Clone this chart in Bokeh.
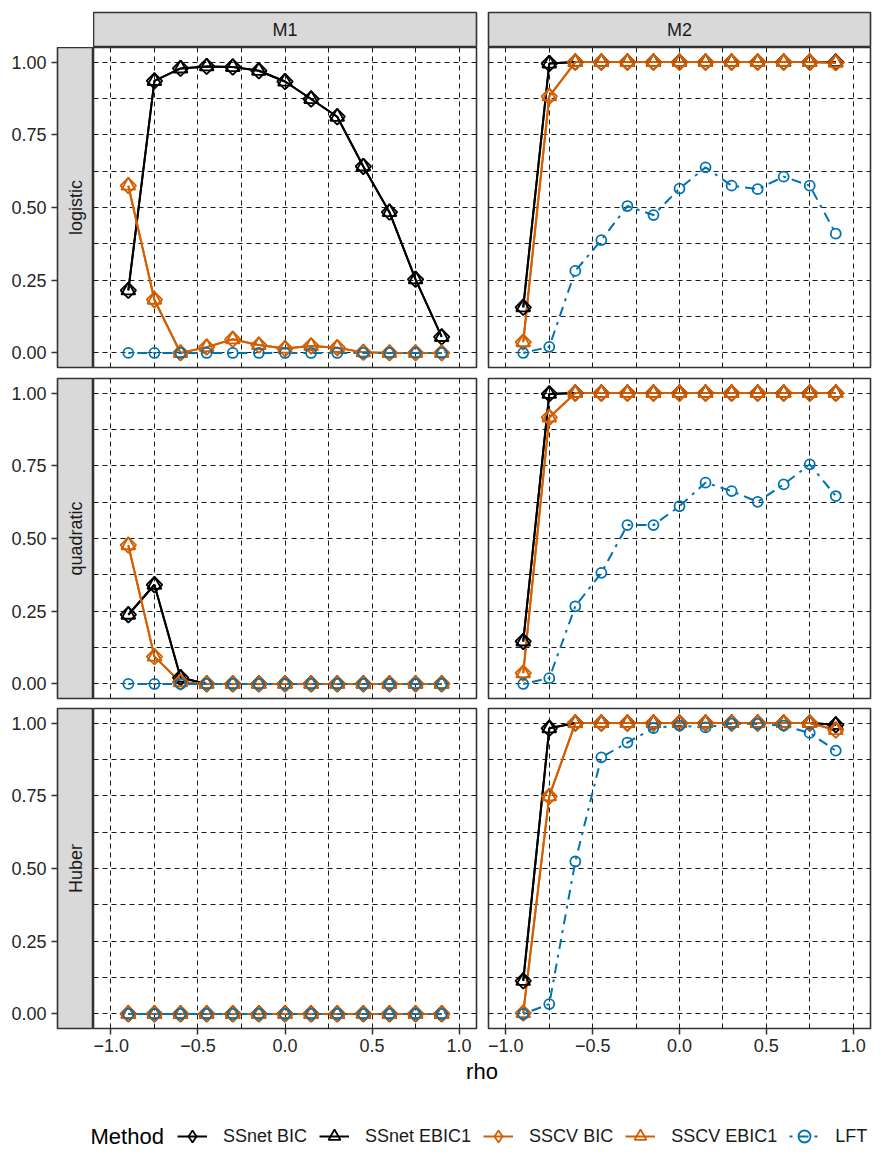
import numpy as np
from bokeh.plotting import figure
from bokeh.models import (Range1d, LinearAxis, FixedTicker, Grid, Label, Legend,
                          LegendItem, Spacer, CustomJSTickFormatter)
from bokeh.layouts import row, column
from bokeh.embed import file_html
from bokeh.resources import INLINE
from bokeh.core.properties import value

# ---------------- data ----------------
rho = [-0.9, -0.75, -0.6, -0.45, -0.3, -0.15, 0.0, 0.15, 0.3, 0.45, 0.6, 0.75, 0.9]
models = ["M1", "M2"]
losses = ["logistic", "quadratic", "Huber"]
methods = ["SSnet BIC", "SSnet EBIC1", "SSCV BIC", "SSCV EBIC1", "LFT"]
x_ticks = [-1.0, -0.5, 0.0, 0.5, 1.0]
x_minor = [-0.75, -0.25, 0.25, 0.75]
y_ticks = [0.0, 0.25, 0.5, 0.75, 1.0]
y_minor = [0.125, 0.375, 0.625, 0.875]

# logistic, M1
ssnet_bic_logistic_m1 = [0.215, 0.935, 0.978, 0.985, 0.983, 0.970, 0.933, 0.873, 0.812, 0.641, 0.484, 0.253, 0.055]
ssnet_ebic1_logistic_m1 = [0.215, 0.935, 0.978, 0.985, 0.983, 0.970, 0.933, 0.873, 0.812, 0.641, 0.484, 0.253, 0.055]
sscv_bic_logistic_m1 = [0.575, 0.183, 0.0, 0.020, 0.047, 0.027, 0.015, 0.024, 0.018, 0.002, 0.0, 0.0, 0.0]
sscv_ebic1_logistic_m1 = [0.575, 0.183, 0.0, 0.020, 0.047, 0.027, 0.015, 0.024, 0.018, 0.002, 0.0, 0.0, 0.0]
lft_logistic_m1 = [0.0, 0.0, 0.0, 0.0, 0.0, 0.0, 0.0, 0.0, 0.0, 0.0, 0.0, 0.0, 0.0]
# logistic, M2
ssnet_bic_logistic_m2 = [0.157, 0.995, 1.0, 1.0, 1.0, 1.0, 1.0, 1.0, 1.0, 1.0, 1.0, 1.0, 1.0]
ssnet_ebic1_logistic_m2 = [0.157, 0.995, 1.0, 1.0, 1.0, 1.0, 1.0, 1.0, 1.0, 1.0, 1.0, 1.0, 1.0]
sscv_bic_logistic_m2 = [0.037, 0.882, 1.0, 1.0, 1.0, 1.0, 1.0, 1.0, 1.0, 1.0, 1.0, 1.0, 0.997]
sscv_ebic1_logistic_m2 = [0.037, 0.882, 1.0, 1.0, 1.0, 1.0, 1.0, 1.0, 1.0, 1.0, 1.0, 1.0, 0.997]
lft_logistic_m2 = [0.0, 0.021, 0.282, 0.388, 0.505, 0.474, 0.565, 0.638, 0.575, 0.563, 0.606, 0.575, 0.410]
# quadratic, M1
ssnet_bic_quadratic_m1 = [0.238, 0.341, 0.022, 0.0, 0.0, 0.0, 0.0, 0.0, 0.0, 0.0, 0.0, 0.0, 0.0]
ssnet_ebic1_quadratic_m1 = [0.238, 0.341, 0.022, 0.0, 0.0, 0.0, 0.0, 0.0, 0.0, 0.0, 0.0, 0.0, 0.0]
sscv_bic_quadratic_m1 = [0.477, 0.094, 0.006, 0.0, 0.0, 0.0, 0.0, 0.0, 0.0, 0.0, 0.0, 0.0, 0.0]
sscv_ebic1_quadratic_m1 = [0.477, 0.094, 0.006, 0.0, 0.0, 0.0, 0.0, 0.0, 0.0, 0.0, 0.0, 0.0, 0.0]
lft_quadratic_m1 = [0.0, 0.0, 0.0, 0.0, 0.0, 0.0, 0.0, 0.0, 0.0, 0.0, 0.0, 0.0, 0.0]
# quadratic, M2
ssnet_bic_quadratic_m2 = [0.146, 0.997, 1.0, 1.0, 1.0, 1.0, 1.0, 1.0, 1.0, 1.0, 1.0, 1.0, 1.0]
ssnet_ebic1_quadratic_m2 = [0.146, 0.997, 1.0, 1.0, 1.0, 1.0, 1.0, 1.0, 1.0, 1.0, 1.0, 1.0, 1.0]
sscv_bic_quadratic_m2 = [0.037, 0.916, 1.0, 1.0, 1.0, 1.0, 1.0, 1.0, 1.0, 1.0, 1.0, 1.0, 1.0]
sscv_ebic1_quadratic_m2 = [0.037, 0.916, 1.0, 1.0, 1.0, 1.0, 1.0, 1.0, 1.0, 1.0, 1.0, 1.0, 1.0]
lft_quadratic_m2 = [0.0, 0.020, 0.267, 0.382, 0.546, 0.546, 0.611, 0.692, 0.663, 0.626, 0.686, 0.755, 0.646]
# Huber, M1
ssnet_bic_huber_m1 = [0.0, 0.0, 0.0, 0.0, 0.0, 0.0, 0.0, 0.0, 0.0, 0.0, 0.0, 0.0, 0.0]
ssnet_ebic1_huber_m1 = [0.0, 0.0, 0.0, 0.0, 0.0, 0.0, 0.0, 0.0, 0.0, 0.0, 0.0, 0.0, 0.0]
sscv_bic_huber_m1 = [0.0, 0.0, 0.0, 0.0, 0.0, 0.0, 0.0, 0.0, 0.0, 0.0, 0.0, 0.0, 0.0]
sscv_ebic1_huber_m1 = [0.0, 0.0, 0.0, 0.0, 0.0, 0.0, 0.0, 0.0, 0.0, 0.0, 0.0, 0.0, 0.0]
lft_huber_m1 = [0.0, 0.0, 0.0, 0.0, 0.0, 0.0, 0.0, 0.0, 0.0, 0.0, 0.0, 0.0, 0.0]
# Huber, M2
ssnet_bic_huber_m2 = [0.114, 0.982, 1.0, 1.0, 1.0, 1.0, 1.0, 1.0, 1.0, 1.0, 1.0, 1.0, 0.994]
ssnet_ebic1_huber_m2 = [0.114, 0.982, 1.0, 1.0, 1.0, 1.0, 1.0, 1.0, 1.0, 1.0, 1.0, 1.0, 0.994]
sscv_bic_huber_m2 = [0.003, 0.748, 1.0, 1.0, 1.0, 1.0, 1.0, 1.0, 1.0, 1.0, 1.0, 1.0, 0.976]
sscv_ebic1_huber_m2 = [0.003, 0.748, 1.0, 1.0, 1.0, 1.0, 1.0, 1.0, 1.0, 1.0, 1.0, 1.0, 0.976]
lft_huber_m2 = [0.0, 0.034, 0.524, 0.882, 0.933, 0.983, 0.991, 0.985, 0.998, 0.997, 0.991, 0.966, 0.905]

data = {
    ("logistic", "M1"): [ssnet_bic_logistic_m1, ssnet_ebic1_logistic_m1, sscv_bic_logistic_m1, sscv_ebic1_logistic_m1, lft_logistic_m1],
    ("logistic", "M2"): [ssnet_bic_logistic_m2, ssnet_ebic1_logistic_m2, sscv_bic_logistic_m2, sscv_ebic1_logistic_m2, lft_logistic_m2],
    ("quadratic", "M1"): [ssnet_bic_quadratic_m1, ssnet_ebic1_quadratic_m1, sscv_bic_quadratic_m1, sscv_ebic1_quadratic_m1, lft_quadratic_m1],
    ("quadratic", "M2"): [ssnet_bic_quadratic_m2, ssnet_ebic1_quadratic_m2, sscv_bic_quadratic_m2, sscv_ebic1_quadratic_m2, lft_quadratic_m2],
    ("Huber", "M1"): [ssnet_bic_huber_m1, ssnet_ebic1_huber_m1, sscv_bic_huber_m1, sscv_ebic1_huber_m1, lft_huber_m1],
    ("Huber", "M2"): [ssnet_bic_huber_m2, ssnet_ebic1_huber_m2, sscv_bic_huber_m2, sscv_ebic1_huber_m2, lft_huber_m2],
}

# ---------------- styles ----------------
BLACK = "#000000"
ORANGE = "#D55E00"
BLUE = "#0072B2"
FONT = "Liberation Sans"
styles = {
    "SSnet BIC": dict(color=BLACK, marker="square", angle=np.pi / 4, size=11, dash="solid", legend_marker="diamond"),
    "SSnet EBIC1": dict(color=BLACK, marker="triangle", angle=0.0, size=14, dash="solid", legend_marker="triangle"),
    "SSCV BIC": dict(color=ORANGE, marker="square", angle=np.pi / 4, size=11, dash="solid", legend_marker="diamond"),
    "SSCV EBIC1": dict(color=ORANGE, marker="triangle", angle=0.0, size=14, dash="solid", legend_marker="triangle"),
    "LFT": dict(color=BLUE, marker="circle", angle=0.0, size=10, dash="3 6 10 6", legend_marker="circle"),
}
BORDER = "#333333"
STRIP_FILL = "#D9D9D9"
OUTLINE_W = 1.6

FRAME_W = [383, 382]
FRAME_H = 320
LEFT_B = [0, 10]
RIGHT_B = 2
TOP_B = [0, 6, 5]
BOT_B = [5, 5, 30]
L_WIDTH = 93
L_BORDER = 57
TOP_STRIP_H = 47
TOP_STRIP_B = 12

x_fmt = CustomJSTickFormatter(code="return (tick < 0 ? '\u2212' : '') + Math.abs(tick).toFixed(1);")
y_fmt = CustomJSTickFormatter(code="return tick.toFixed(2);")


def add_grids(p):
    for dim, ticks, minor in [(0, x_ticks, x_minor), (1, y_ticks, y_minor)]:
        g = Grid(dimension=dim, ticker=FixedTicker(ticks=ticks, minor_ticks=minor))
        g.grid_line_color = "#1a1a1a"
        g.grid_line_width = 1
        g.grid_line_dash = "5 4"
        g.minor_grid_line_color = "#1a1a1a"
        g.minor_grid_line_width = 1
        g.minor_grid_line_dash = "5 4"
        p.add_layout(g, "center")


def make_panel(loss, model, r, c):
    p = figure(width=LEFT_B[c] + FRAME_W[c] + RIGHT_B,
               height=TOP_B[r] + FRAME_H + BOT_B[r],
               x_range=Range1d(-1.1, 1.1), y_range=Range1d(-0.05, 1.05),
               x_axis_type=None, y_axis_type=None,
               toolbar_location=None, output_backend="svg",
               min_border_left=LEFT_B[c], min_border_right=RIGHT_B,
               min_border_top=TOP_B[r], min_border_bottom=BOT_B[r])
    p.background_fill_color = "white"
    p.border_fill_color = "white"
    p.outline_line_color = BORDER
    p.outline_line_width = OUTLINE_W
    add_grids(p)
    series = data[(loss, model)]
    for m, ys in zip(methods, series):
        st = styles[m]
        p.line(x=rho, y=ys, line_color=st["color"], line_width=2, line_dash=st["dash"])
    for m, ys in zip(methods, series):
        st = styles[m]
        p.scatter(x=rho, y=ys, marker=st["marker"], size=st["size"], angle=st["angle"],
                  fill_color=None, line_color=st["color"], line_width=1.8)
    if r == 2:
        ax = LinearAxis(ticker=FixedTicker(ticks=x_ticks), formatter=x_fmt)
        ax.axis_line_color = None
        ax.major_tick_in = 0
        ax.major_tick_out = 6
        ax.major_tick_line_color = BORDER
        ax.major_tick_line_width = 1.5
        ax.minor_tick_line_color = None
        ax.major_label_standoff = 4
        ax.major_label_text_font = FONT
        ax.major_label_text_font_size = "18px"
        ax.major_label_text_color = "#262626"
        p.add_layout(ax, "below")
    return p


def make_left_strip(loss, r):
    p = figure(width=L_WIDTH, height=TOP_B[r] + FRAME_H + BOT_B[r],
               x_range=Range1d(0, 1), y_range=Range1d(-0.05, 1.05),
               x_axis_type=None, y_axis_type=None,
               toolbar_location=None, output_backend="svg",
               min_border_left=L_BORDER, min_border_right=0,
               min_border_top=TOP_B[r], min_border_bottom=BOT_B[r])
    p.background_fill_color = STRIP_FILL
    p.border_fill_color = "white"
    p.outline_line_color = BORDER
    p.outline_line_width = OUTLINE_W
    ax = LinearAxis(ticker=FixedTicker(ticks=y_ticks), formatter=y_fmt)
    ax.axis_line_color = None
    ax.major_tick_in = 0
    ax.major_tick_out = 6
    ax.major_tick_line_color = BORDER
    ax.major_tick_line_width = 1.5
    ax.minor_tick_line_color = None
    ax.major_label_standoff = 5
    ax.major_label_text_font = FONT
    ax.major_label_text_font_size = "18px"
    ax.major_label_text_color = "#262626"
    p.add_layout(ax, "left")
    p.text(x=[0.5], y=[0.5], text=[loss], angle=np.pi / 2, text_align="center",
           text_baseline="middle", text_font=value(FONT), text_font_size="18px",
           text_color="#1A1A1A")
    return p


def make_top_strip(model, c):
    p = figure(width=LEFT_B[c] + FRAME_W[c] + RIGHT_B, height=TOP_STRIP_H,
               x_range=Range1d(0, 1), y_range=Range1d(0, 1),
               x_axis_type=None, y_axis_type=None,
               toolbar_location=None, output_backend="svg",
               min_border_left=LEFT_B[c], min_border_right=RIGHT_B,
               min_border_top=TOP_STRIP_B, min_border_bottom=0)
    p.background_fill_color = STRIP_FILL
    p.border_fill_color = "white"
    p.outline_line_color = BORDER
    p.outline_line_width = OUTLINE_W
    p.text(x=[0.5], y=[0.5], text=[model], text_align="center", text_baseline="middle",
           text_font=value(FONT), text_font_size="18px", text_color="#1A1A1A")
    return p


rows = [row(Spacer(width=L_WIDTH, height=TOP_STRIP_H), make_top_strip("M1", 0), make_top_strip("M2", 1))]
for r, loss in enumerate(losses):
    rows.append(row(make_left_strip(loss, r), make_panel(loss, "M1", r, 0), make_panel(loss, "M2", r, 1)))

TOTAL_W = L_WIDTH + sum(LEFT_B[c] + FRAME_W[c] + RIGHT_B for c in range(2))

# x axis title
pt = figure(width=TOTAL_W, height=32, x_range=Range1d(0, 1), y_range=Range1d(0, 1),
            x_axis_type=None, y_axis_type=None, toolbar_location=None, output_backend="svg",
            min_border=0)
pt.outline_line_color = None
pt.add_layout(Label(x=481.5, y=19, x_units="screen", y_units="screen", text="rho",
                    text_align="center", text_baseline="middle", text_font=FONT,
                    text_font_size="22px", text_color="#000000"))

# legend (its renderers sit outside the visible range; only the legend keys show)
pl = figure(width=TOTAL_W, height=70, x_range=Range1d(10, 11), y_range=Range1d(10, 11),
            x_axis_type=None, y_axis_type=None, toolbar_location=None, output_backend="svg",
            min_border=0)
pl.outline_line_color = None
items = []
for m, ys in zip(methods, data[("logistic", "M2")]):
    st = styles[m]
    rl = pl.line(x=rho, y=ys, line_color=st["color"], line_width=2, line_dash=st["dash"])
    rs = pl.scatter(x=rho, y=ys, marker=st["legend_marker"], size=st["size"],
                    fill_color=None, line_color=st["color"], line_width=1.8)
    items.append(LegendItem(label=m, renderers=[rl, rs]))
leg = Legend(items=items, orientation="horizontal", location=(177, 9),
             glyph_width=30, glyph_height=30, label_standoff=16, spacing=12,
             padding=0, margin=0, border_line_color=None, background_fill_alpha=0,
             label_text_font=FONT, label_text_font_size="18px", label_text_color="#1A1A1A",
             label_height=20)
pl.add_layout(leg, "center")
pl.add_layout(Label(x=90, y=24, x_units="screen", y_units="screen", text="Method",
                    text_align="left", text_baseline="middle", text_font=FONT,
                    text_font_size="22px", text_color="#000000"))

layout = column(*rows, pt, pl)
open("out.html", "w").write(file_html(layout, INLINE))
